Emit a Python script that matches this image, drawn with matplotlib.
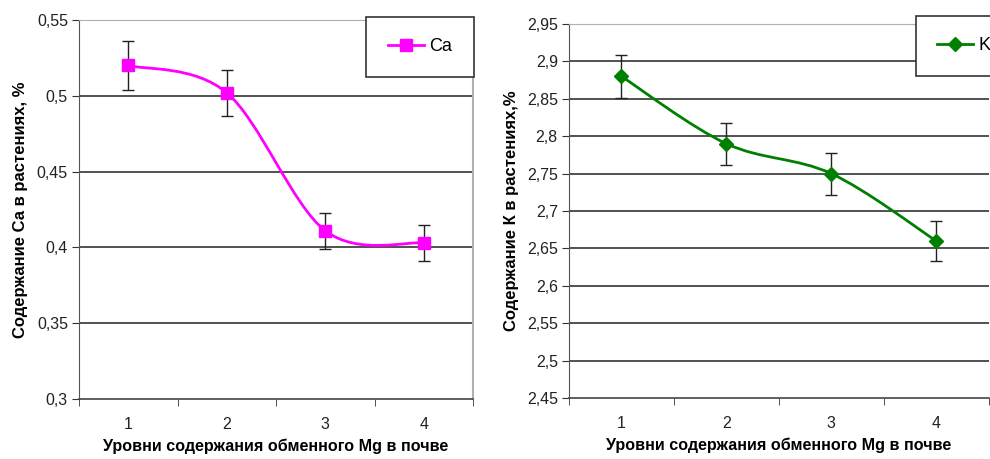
import numpy as np
import matplotlib.pyplot as plt
from matplotlib.path import Path
from matplotlib.patches import PathPatch

plt.rcParams['font.family'] = ['Liberation Sans', 'DejaVu Sans']

levels = [1, 2, 3, 4]
ca = [0.520, 0.502, 0.411, 0.403]
ca_err = [0.016, 0.015, 0.012, 0.012]
k = [2.88, 2.79, 2.75, 2.66]
k_err = [0.029, 0.028, 0.028, 0.027]

ca_ticks = [0.3, 0.35, 0.4, 0.45, 0.5, 0.55]
ca_labels = ['0,3', '0,35', '0,4', '0,45', '0,5', '0,55']
k_ticks = [2.45, 2.5, 2.55, 2.6, 2.65, 2.7, 2.75, 2.8, 2.85, 2.9, 2.95]
k_labels = ['2,45', '2,5', '2,55', '2,6', '2,65', '2,7', '2,75', '2,8', '2,85', '2,9', '2,95']

xlabel = 'Уровни содержания обменного Mg в почве'


def smooth_line(ax, x, y, color):
    # excel-like bezier smoothing, done in pixel space
    pts = ax.transData.transform(np.column_stack([x, y]))
    n = len(pts)
    verts = [pts[0]]
    codes = [Path.MOVETO]
    for i in range(n - 1):
        p0 = pts[i - 1] if i > 0 else pts[i]
        p1 = pts[i]
        p2 = pts[i + 1]
        p3 = pts[i + 2] if i + 2 < n else pts[i + 1]
        c1 = p1 + (p2 - p0) / 6
        c2 = p2 - (p3 - p1) / 6
        verts += [c1, c2, p2]
        codes += [Path.CURVE4] * 3
    path = Path(ax.transData.inverted().transform(np.array(verts)), codes)
    ax.add_patch(PathPatch(path, fill=False, edgecolor=color, lw=2, zorder=3))


def setup(ax, ticks, labels, ylabel):
    ax.set_xlim(0.5, 4.5)
    ax.set_ylim(ticks[0], ticks[-1])
    ax.set_yticks(ticks)
    ax.set_yticklabels(labels)
    ax.set_xticks(levels)
    ax.set_xticks([0.5, 1.5, 2.5, 3.5, 4.5], minor=True)
    ax.tick_params(axis='x', which='major', length=0, pad=13, labelsize=11.5, colors='#222222')
    ax.tick_params(axis='x', which='minor', length=5, direction='out', color='#333333')
    ax.tick_params(axis='y', length=5, direction='out', color='#333333', labelsize=11.5,
                   labelcolor='#222222', pad=3)
    for t in ticks[1:-1]:
        ax.axhline(t, color='#333333', lw=1.2, zorder=1)
    ax.spines['left'].set_color('#555555')
    ax.spines['bottom'].set_color('#444444')
    ax.spines['bottom'].set_linewidth(1.2)
    ax.spines['top'].set_color('#b0b0b0')
    ax.spines['right'].set_color('#b0b0b0')
    ax.spines['right'].set_linewidth(1.5)
    ax.set_xlabel(xlabel, fontsize=11.6, fontweight='bold', labelpad=5)
    ax.set_ylabel(ylabel, fontsize=12, fontweight='bold', labelpad=6)


fig = plt.figure(figsize=(9.9, 4.59), dpi=100)
ax1 = fig.add_axes([0.0798, 0.1307, 0.398, 0.8257])
ax2 = fig.add_axes([0.5747, 0.1329, 0.424, 0.8148])

setup(ax1, ca_ticks, ca_labels, 'Содержание Са в растениях, %')
setup(ax2, k_ticks, k_labels, 'Содержание К в растениях,%')
ax2.spines['right'].set_visible(False)

smooth_line(ax1, levels, ca, '#ff00ff')
ax1.errorbar(levels, ca, yerr=ca_err, fmt='none', ecolor='#222222', elinewidth=1,
             capsize=4, capthick=1, zorder=4)
ax1.plot(levels, ca, 's', color='#ff00ff', ms=8, zorder=5)
ax1.plot([], [], '-s', color='#ff00ff', ms=8, lw=2, label='Ca')

smooth_line(ax2, levels, k, '#008000')
ax2.errorbar(levels, k, yerr=k_err, fmt='none', ecolor='#222222', elinewidth=1,
             capsize=4, capthick=1, zorder=4)
ax2.plot(levels, k, 'D', color='#008000', ms=7, zorder=5)
ax2.plot([], [], '-D', color='#008000', ms=7, lw=2, label='K')

for ax, loc in [(ax1, (0.728, 0.85)), (ax2, (0.826, 0.861))]:
    leg = ax.legend(loc='lower left', bbox_to_anchor=loc, fontsize=13, fancybox=False,
                    framealpha=1, edgecolor='#333333', handlelength=2.0,
                    borderpad=1.2, handletextpad=0.3, borderaxespad=0)
    leg.get_frame().set_linewidth(1.2)
    leg.set_zorder(6)
    leg.set_clip_on(False)

fig.savefig('out.png', dpi=100)
